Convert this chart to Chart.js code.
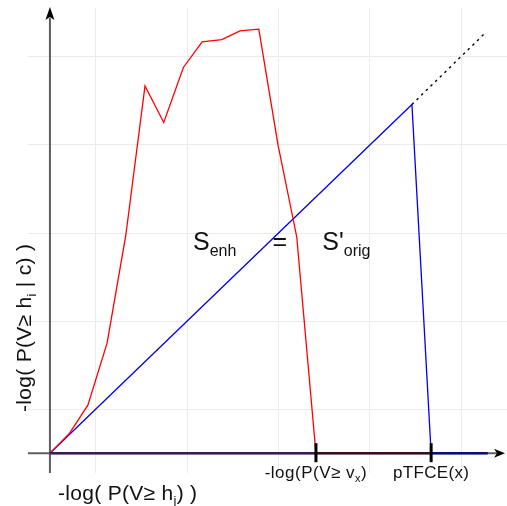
<!DOCTYPE html>
<html>
<head>
<meta charset="utf-8">
<script src="https://cdn.jsdelivr.net/npm/chart.js@4.4.1/dist/chart.umd.min.js"></script>
<style>
  html, body { margin: 0; padding: 0; background: #fff; }
  #wrap { width: 507px; height: 506px; }
</style>
</head>
<body>
<div id="wrap"><canvas id="chart" width="507" height="506"></canvas></div>
<script>
// enhanced curve (red)
const redX = [0, 0.42, 0.83, 1.25, 1.66, 2.08, 2.49, 2.92, 3.33, 3.76, 4.16, 4.57, 4.99, 5.40, 5.82];
const redY = [0, 0.44, 1.09, 2.50, 4.95, 8.34, 7.51, 8.76, 9.34, 9.39, 9.59, 9.63, 7.00, 4.91, 0];
// original (blue) and its dashed continuation
const blueX = [0, 7.92, 8.34];
const blueY = [0, 7.92, 0];
const dashX = [7.92, 9.53];
const dashY = [7.92, 9.55];
// baseline pieces along the x axis
const baseX = [0, 5.82, 8.34, 9.58];
const baseColors = ['#3b1c58', '#3a0c24', '#0c0c72'];
// marked positions on x axis
const markerX = [5.82, 8.34];
const gridTicks = [1, 3, 5, 7, 9];

const pts = (xs, ys) => xs.map((v, i) => ({x: v, y: ys[i]}));
const FONT = '"Liberation Sans", Arial, sans-serif';

function subText(ctx, parts, x, y, size, subSize, align, spacing) {
    // parts: [text, subscript, tail]
    ctx.letterSpacing = (spacing || 0) + 'px';
    ctx.font = size + 'px ' + FONT;
    const w1 = ctx.measureText(parts[0]).width;
    const w3 = ctx.measureText(parts[2]).width;
    ctx.font = subSize + 'px ' + FONT;
    const w2 = ctx.measureText(parts[1]).width;
    let sx = x;
    if (align === 'center') sx = x - (w1 + w2 + w3) / 2;
    ctx.textAlign = 'left';
    ctx.textBaseline = 'alphabetic';
    ctx.font = size + 'px ' + FONT;
    ctx.fillText(parts[0], sx, y);
    ctx.font = subSize + 'px ' + FONT;
    ctx.fillText(parts[1], sx + w1, y + size * 0.22);
    ctx.font = size + 'px ' + FONT;
    ctx.fillText(parts[2], sx + w1 + w2, y);
    ctx.letterSpacing = '0px';
}

const overlay = {
    id: 'overlay',
    beforeDatasetsDraw(chart) {
        const {ctx, scales: {x, y}} = chart;
        const x0 = x.getPixelForValue(0), y0 = y.getPixelForValue(0);
        ctx.save();
        ctx.strokeStyle = '#5e5e5e';
        ctx.lineWidth = 2;
        ctx.beginPath();
        ctx.moveTo(x.left, y0);
        ctx.lineTo(x.right - 10, y0);
        ctx.moveTo(x0, y.bottom);
        ctx.lineTo(x0, y.top + 10);
        ctx.stroke();
        ctx.restore();
    },
    afterDatasetsDraw(chart) {
        const {ctx, scales: {x, y}} = chart;
        const x0 = x.getPixelForValue(0), y0 = y.getPixelForValue(0);
        ctx.save();
        ctx.fillStyle = '#000';

        // arrow heads
        const tx = x.right - 2;
        ctx.beginPath();
        ctx.moveTo(tx, y0);
        ctx.lineTo(tx - 11, y0 - 4.5);
        ctx.lineTo(tx - 8, y0);
        ctx.lineTo(tx - 11, y0 + 4.5);
        ctx.closePath();
        ctx.fill();
        const ty = y.top - 1;
        ctx.beginPath();
        ctx.moveTo(x0, ty);
        ctx.lineTo(x0 - 4.5, ty + 13);
        ctx.lineTo(x0, ty + 10);
        ctx.lineTo(x0 + 4.5, ty + 13);
        ctx.closePath();
        ctx.fill();

        // marker bars
        ctx.strokeStyle = '#000';
        ctx.lineWidth = 3;
        markerX.forEach(v => {
            const px = x.getPixelForValue(v);
            ctx.beginPath();
            ctx.moveTo(px, y0 - 10);
            ctx.lineTo(px, y0 + 9);
            ctx.stroke();
        });

        ctx.fillStyle = '#111';
        // marker labels
        subText(ctx, ['-log(P(V\u2265 v', 'x', ')'], x.getPixelForValue(markerX[0]), y0 + 25, 17, 11, 'center', 0.5);
        subText(ctx, ['pTFCE(x)', '', ''], x.getPixelForValue(markerX[1]), y0 + 25, 17, 11, 'center', 0.3);

        // axis titles
        subText(ctx, ['-log( P(V\u2265 h', 'j', ') )'], 58, 500, 21, 13, 'left', 0.3);
        ctx.save();
        ctx.translate(31, 412);
        ctx.rotate(-Math.PI / 2);
        subText(ctx, ['-log( P(V\u2265 h', 'i', ' | c) )'], 0, 0, 21, 13, 'left', 0.3);
        ctx.restore();

        // equation in the middle
        subText(ctx, ['S', 'enh', ''], x.getPixelForValue(3.13), y.getPixelForValue(4.61), 25, 16, 'left', 0);
        ctx.font = '25px ' + FONT;
        ctx.textAlign = 'left';
        ctx.fillText('=', x.getPixelForValue(4.87), y.getPixelForValue(4.61));
        subText(ctx, ["S'", 'orig', ''], x.getPixelForValue(5.96), y.getPixelForValue(4.61), 25, 16, 'left', 0);
        ctx.restore();
    }
};

const ctx = document.getElementById('chart').getContext('2d');
const chart = new Chart(ctx, {
    type: 'scatter',
    data: {
        datasets: [
            {
                data: pts(baseX, baseX.map(() => 0)),
                showLine: true,
                borderWidth: 2.5,
                pointRadius: 0,
                segment: {
                    borderColor: c => baseColors[c.p0DataIndex]
                },
                borderColor: baseColors[0]
            },
            {
                data: pts(redX, redY),
                showLine: true,
                borderColor: '#ff0000',
                borderWidth: 1.3,
                pointRadius: 0
            },
            {
                data: pts(blueX, blueY),
                showLine: true,
                borderColor: '#0000ee',
                borderWidth: 1.3,
                pointRadius: 0
            },
            {
                data: pts(dashX, dashY),
                showLine: true,
                borderColor: '#000',
                borderWidth: 1.4,
                borderDash: [2.5, 4],
                pointRadius: 0
            }
        ]
    },
    options: {
        responsive: false,
        animation: false,
        layout: { padding: { left: 28, right: 0, top: 8, bottom: 33 } },
        plugins: { legend: { display: false }, tooltip: { enabled: false } },
        scales: {
            x: {
                type: 'linear',
                min: -0.48,
                max: 10.0,
                ticks: { display: false },
                afterBuildTicks: s => { s.ticks = gridTicks.map(v => ({value: v})); },
                grid: { color: '#ebebeb', drawTicks: false },
                border: { display: false }
            },
            y: {
                type: 'linear',
                min: -0.45,
                max: 10.11,
                ticks: { display: false },
                afterBuildTicks: s => { s.ticks = gridTicks.map(v => ({value: v})); },
                grid: { color: '#ebebeb', drawTicks: false },
                border: { display: false }
            }
        }
    },
    plugins: [overlay]
});
</script>
</body>
</html>
